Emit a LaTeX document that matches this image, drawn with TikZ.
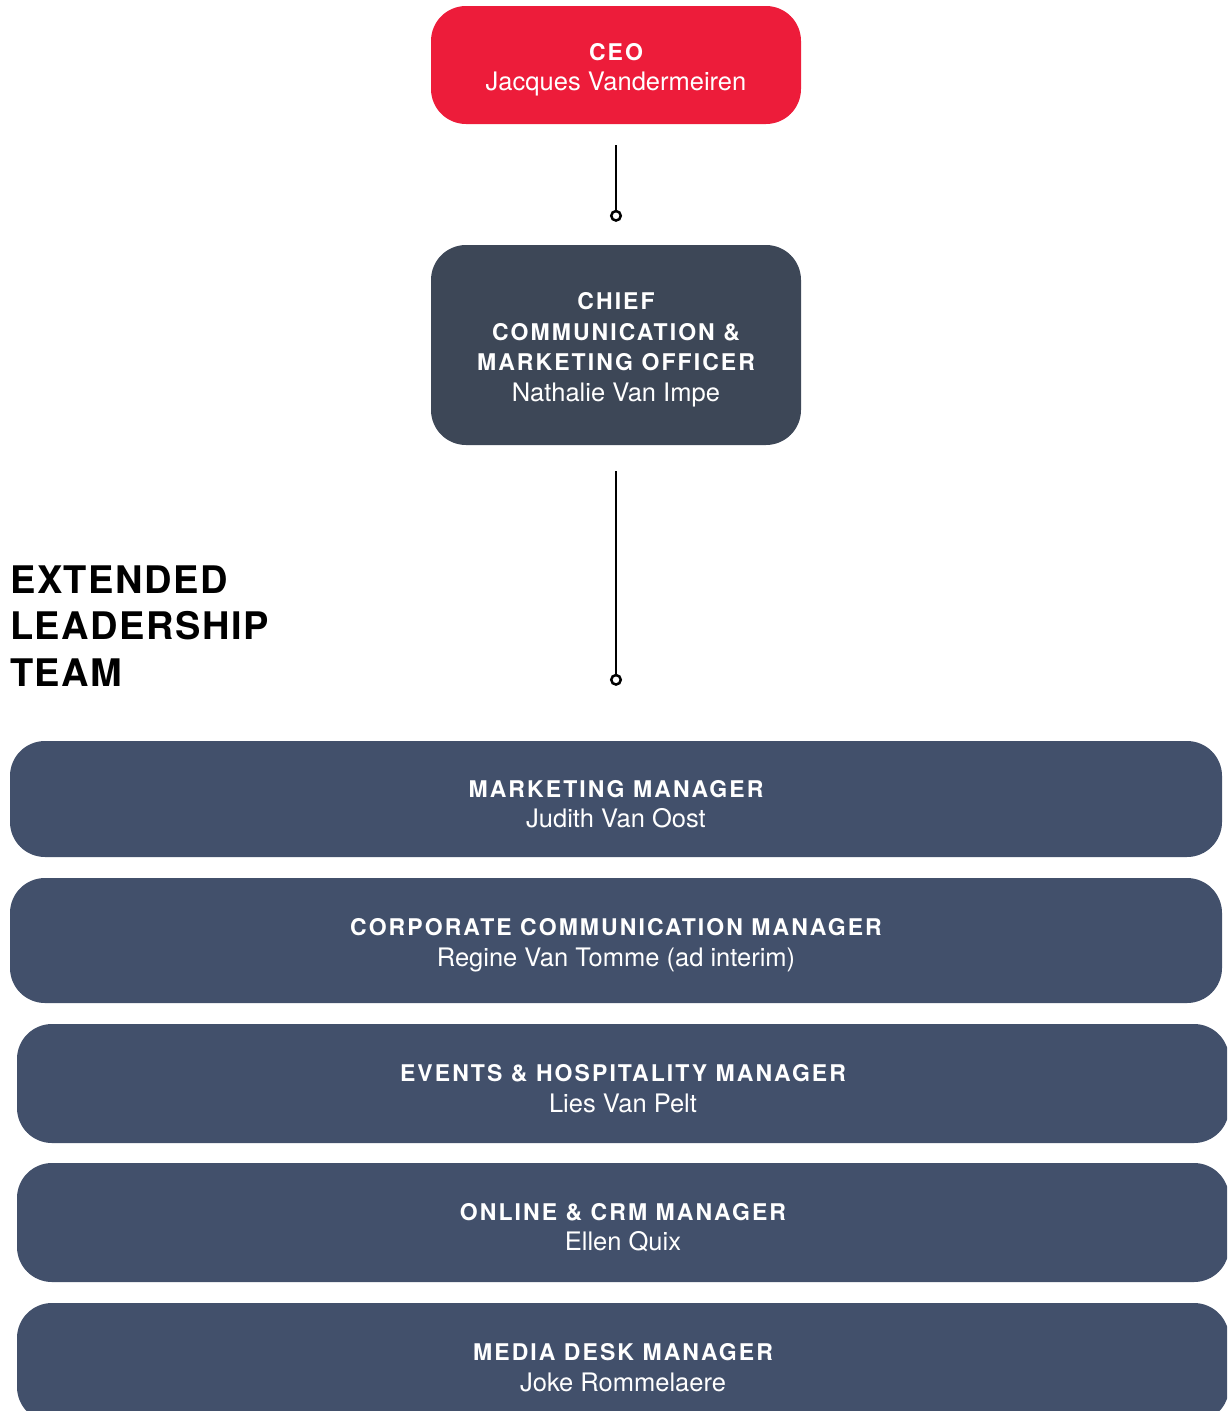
\documentclass[tikz,border=0pt]{standalone}
\usepackage{fontspec}
\setmainfont{TeX Gyre Heros}
\newfontfamily\capsfont[LetterSpace=9]{TeX Gyre Heros}
\newfontfamily\headfont[LetterSpace=4]{TeX Gyre Heros}
\usetikzlibrary{arrows.meta}
\definecolor{ceored}{HTML}{ED1C3A}
\definecolor{cmoslate}{HTML}{3D4757}
\definecolor{teamslate}{HTML}{42506B}
% bold title line, with a strut that pushes the block down a little
\newcommand{\rtitle}[1]{{\rule{0pt}{27pt}\capsfont\bfseries\fontsize{23}{30.5}\selectfont #1}}
\tikzset{
	orgbox/.style={rounded corners=35pt, inner sep=0pt, text=white, align=center, font={\fontsize{25.5}{30.5}\selectfont}},
	ceobox/.style={orgbox, fill=ceored, minimum width=370pt, minimum height=118pt},
	cmobox/.style={orgbox, fill=cmoslate, minimum width=370pt, minimum height=200pt},
	teambox/.style={orgbox, fill=teamslate, minimum width=1212pt},
	link/.style={line width=2.5pt, -{Circle[open, length=12pt, width=12pt, line width=2.5pt]}}
}
\begin{document}
\begin{tikzpicture}[x=1pt, y=-1pt]
	\useasboundingbox (0,0) rectangle (1227,1411);
	\clip (0,0) rectangle (1227,1411);
	% top of the chart
	\node[ceobox] (ceo) at (616,65) {\rtitle{CEO}\\Jacques Vandermeiren};
	\node[cmobox] (cmo) at (616,345) {\rtitle{CHIEF}\\\rtitle{COMMUNICATION \&}\\\rtitle{MARKETING OFFICER}\\Nathalie Van Impe};
	\draw[link, shorten <=21pt, shorten >=23pt] (ceo) -- (cmo);
	% extended leadership team
	\node[anchor=base west, inner sep=0pt, align=left, font={\headfont\bfseries\fontsize{38}{46.5}\selectfont}] (elt) at (10,686) {EXTENDED\\LEADERSHIP\\TEAM};
	\node[teambox, minimum height=116pt] (mkt) at (616,799) {\rtitle{MARKETING MANAGER}\\Judith Van Oost};
	\node[teambox, minimum height=125pt] (corp) at (616,940.5) {\rtitle{CORPORATE COMMUNICATION MANAGER}\\Regine Van Tomme (ad interim)};
	\node[teambox, minimum height=119pt] (evt) at (623,1083.5) {\rtitle{EVENTS \& HOSPITALITY MANAGER}\\Lies Van Pelt};
	\node[teambox, minimum height=119pt] (onl) at (623,1222.5) {\rtitle{ONLINE \& CRM MANAGER}\\Ellen Quix};
	\node[teambox, minimum height=119pt] (med) at (623,1362.5) {\rtitle{MEDIA DESK MANAGER}\\Joke Rommelaere};
	\draw[link, shorten <=26pt, shorten >=55pt] (cmo) -- (mkt);
\end{tikzpicture}
\end{document}
